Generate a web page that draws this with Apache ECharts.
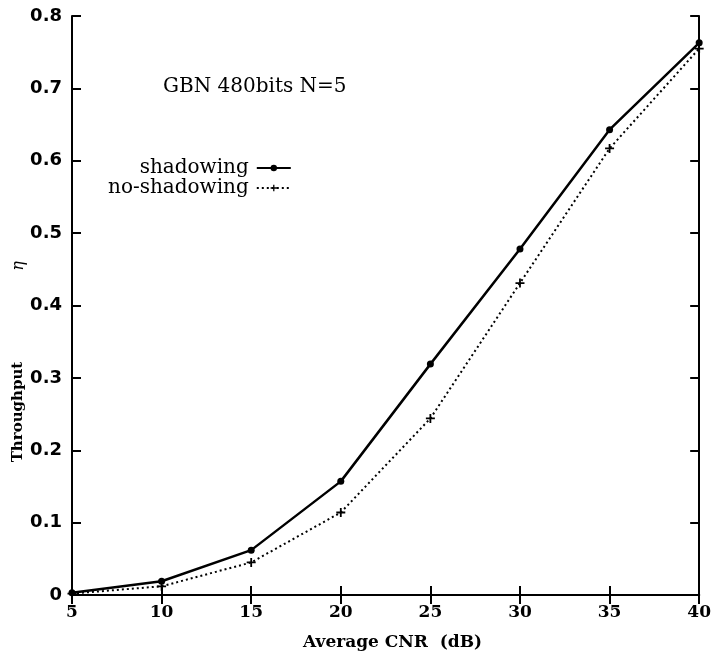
<!DOCTYPE html>
<html><head><meta charset="utf-8">
<script src="https://cdn.jsdelivr.net/npm/echarts@6/dist/echarts.min.js"></script>
<style>html,body{margin:0;padding:0;background:#fff}#c{width:714px;height:656px}</style>
</head><body><div id="c"></div>
<script>
const cnr = [5, 10, 15, 20, 25, 30, 35, 40];
const shadowing = [0.003, 0.019, 0.062, 0.157, 0.319, 0.478, 0.643, 0.763];
const noShadowing = [0.002, 0.012, 0.045, 0.114, 0.244, 0.431, 0.617, 0.755];
const seriesNames = ['shadowing', 'no-shadowing'];
const annotation = 'GBN 480bits N=5';
const xName = 'Average CNR  (dB)';
const yNameWord = 'Throughput';
const yNameSym = 'η';

const serif = '"DejaVu Serif", "Liberation Serif", serif';
const sans = '"DejaVu Sans", "Liberation Sans", sans-serif';
const chart = echarts.init(document.getElementById('c'));
const plus = 'path://M4,0h2v4h4v2h-4v4h-2v-4h-4v-2h4z';
chart.setOption({
  animation: false,
  backgroundColor: '#fff',
  grid: { left: 72, right: 11, top: 16, bottom: 59 },
  xAxis: [{
    type: 'value', min: 5, max: 40, interval: 5,
    name: xName, nameLocation: 'middle', nameGap: 39,
    nameTextStyle: { fontFamily: serif, fontSize: 17, fontWeight: 'bold', color: '#000', padding: [0, 0, 0, 14] },
    axisLine: { lineStyle: { color: '#000', width: 2 } },
    axisTick: { inside: true, length: 9, lineStyle: { color: '#000', width: 2 } },
    axisLabel: { fontFamily: serif, fontSize: 17, fontWeight: 'bold', color: '#000', margin: 9 },
    splitLine: { show: false }
  }, {
    type: 'value', min: 5, max: 40, interval: 5, position: 'top',
    axisLine: { lineStyle: { color: '#000', width: 2 } },
    axisTick: { inside: true, length: 9, lineStyle: { color: '#000', width: 2 } },
    axisLabel: { show: false }, splitLine: { show: false }
  }],
  yAxis: [{
    type: 'value', min: 0, max: 0.8, interval: 0.1,
    axisLine: { lineStyle: { color: '#000', width: 2 } },
    axisTick: { inside: true, length: 9, lineStyle: { color: '#000', width: 2 } },
    axisLabel: { fontFamily: sans, fontSize: 18, fontWeight: 'bold', color: '#000', margin: 10,
      formatter: v => (Math.round(v * 10) / 10).toString() },
    splitLine: { show: false }
  }, {
    type: 'value', min: 0, max: 0.8, interval: 0.1, position: 'right',
    axisLine: { lineStyle: { color: '#000', width: 2 } },
    axisTick: { inside: true, length: 9, lineStyle: { color: '#000', width: 2 } },
    axisLabel: { show: false }, splitLine: { show: false }
  }],
  legend: {
    left: 103, top: 153, orient: 'vertical', align: 'right', itemGap: 0,
    itemWidth: 34, itemHeight: 8,
    textStyle: { fontFamily: serif, fontSize: 20, color: '#000', padding: [0, 3, 0, 0] },
    data: seriesNames
  },
  graphic: [
    { type: 'text', left: 163, top: 77, style: { text: annotation, font: '20px ' + serif, fill: '#000' } },
    { type: 'text', x: 18, y: 412, rotation: Math.PI / 2,
      style: { text: yNameWord, font: 'bold 15px ' + serif, fill: '#000', textAlign: 'center', textVerticalAlign: 'middle' } },
    { type: 'text', x: 19, y: 266, rotation: Math.PI / 2,
      style: { text: yNameSym, font: 'italic 16px ' + serif, fill: '#000', textAlign: 'center', textVerticalAlign: 'middle' } }
  ],
  series: [{
    name: seriesNames[0], type: 'line', data: cnr.map((x, i) => [x, shadowing[i]]),
    symbol: 'circle', symbolSize: 7,
    lineStyle: { color: '#000', width: 2.5 }, itemStyle: { color: '#000' }
  }, {
    name: seriesNames[1], type: 'line', data: cnr.map((x, i) => [x, noShadowing[i]]),
    symbol: plus, symbolSize: 9,
    lineStyle: { color: '#000', width: 2, type: [2, 3] }, itemStyle: { color: '#000' }
  }]
});
</script></body></html>
